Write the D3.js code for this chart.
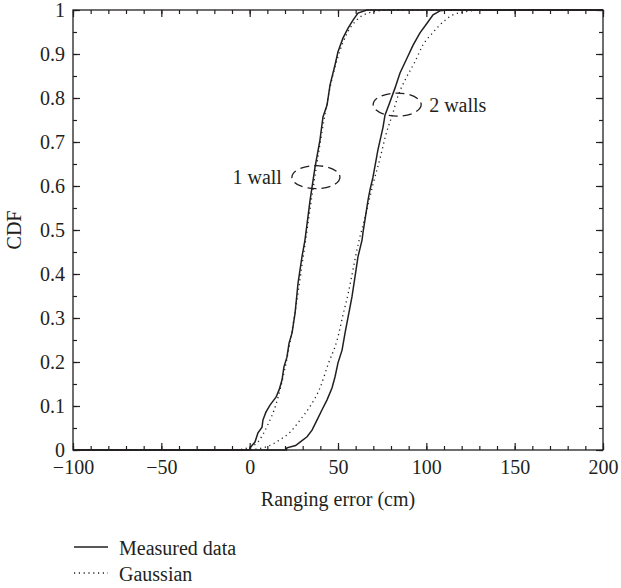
<!DOCTYPE html>
<html>
<head>
<meta charset="utf-8">
<script src="https://cdn.jsdelivr.net/npm/d3@7"></script>
<style>
  html, body { margin: 0; padding: 0; background: #fff; }
  svg { display: block; }
  text { font-family: "Liberation Serif", "DejaVu Serif", serif; fill: #231f20; }
</style>
</head>
<body>
<svg id="chart" width="621" height="588"></svg>
<script>
// Empirical CDF of ranging error, one wall (x in cm, cumulative fraction)
const oneWallX = [-100, 0.0, 0.2, 3.0, 4.7, 7.0, 7.5, 9.2, 11.5, 13.2, 14.9, 16.6, 18.3, 19.4, 21.1, 22.3, 24.0, 25.7, 27.4, 29.6, 31.3, 34.2, 37.0, 39.8, 41.5, 43.8, 45.5, 48.3, 50.0, 52.8, 55.7, 58.5, 61.3, 66.4, 200];
const oneWallY = [0, 0, 0.005, 0.018, 0.039, 0.052, 0.068, 0.086, 0.102, 0.111, 0.120, 0.136, 0.159, 0.189, 0.211, 0.243, 0.266, 0.311, 0.380, 0.439, 0.477, 0.568, 0.643, 0.705, 0.757, 0.784, 0.830, 0.875, 0.905, 0.936, 0.959, 0.977, 0.993, 1.0, 1.0];

// Empirical CDF of ranging error, two walls
const twoWallX = [-100, 20.8, 21.1, 26.0, 28.5, 32.5, 35.3, 38.1, 40.9, 43.8, 46.6, 48.3, 50.0, 52.3, 54.0, 55.7, 57.9, 59.6, 61.3, 63.6, 64.1, 67.0, 68.1, 69.8, 72.6, 75.5, 76.6, 79.4, 82.3, 85.1, 89.1, 92.5, 96.4, 100.4, 103.8, 107.7, 111.7, 200];
const twoWallY = [0, 0, 0.005, 0.010, 0.018, 0.030, 0.045, 0.068, 0.091, 0.114, 0.141, 0.166, 0.198, 0.227, 0.266, 0.302, 0.348, 0.393, 0.439, 0.477, 0.493, 0.568, 0.591, 0.620, 0.682, 0.734, 0.761, 0.791, 0.823, 0.857, 0.891, 0.920, 0.948, 0.970, 0.989, 0.998, 1.0, 1.0];

// Gaussian fits (sampled)
const gaussOneX = [-100, -10, 0, 5, 10, 15, 20, 25, 30, 35, 40, 45, 50, 55, 60, 65, 70, 80, 200];
const gaussOneY = [0, 0.0, 0.006, 0.02, 0.055, 0.105, 0.186, 0.296, 0.43, 0.57, 0.70, 0.814, 0.894, 0.946, 0.975, 0.99, 0.996, 1.0, 1.0];
const gaussTwoX = [-100, 0, 10, 17, 23, 28.5, 34, 40, 44.5, 49.5, 53, 56, 58, 61, 66, 70, 74, 77, 81, 84, 88.5, 93.5, 98, 104, 109.5, 115, 122, 130, 200];
const gaussTwoY = [0, 0.001, 0.008, 0.023, 0.041, 0.068, 0.098, 0.143, 0.196, 0.25, 0.31, 0.36, 0.40, 0.46, 0.54, 0.607, 0.666, 0.715, 0.765, 0.805, 0.845, 0.882, 0.92, 0.95, 0.973, 0.989, 0.996, 1.0, 1.0];

// Axis ticks
const xMajor = [-100, -50, 0, 50, 100, 150, 200];
const xMinor = d3.range(-100, 201, 10);
const yMajor = [0, 0.1, 0.2, 0.3, 0.4, 0.5, 0.6, 0.7, 0.8, 0.9, 1];
const yMinor = d3.range(0, 1.0001, 0.05);
const xTickLabels = ["\u2212100", "\u221250", "0", "50", "100", "150", "200"];
const yTickLabels = ["0", "0.1", "0.2", "0.3", "0.4", "0.5", "0.6", "0.7", "0.8", "0.9", "1"];

// Annotations: label, ellipse centre (data units)
const annotations = [
  { label: "1 wall", cx: 37.5, cy: 0.62, textSide: "left" },
  { label: "2 walls", cx: 83.5, cy: 0.785, textSide: "right" }
];

const legendItems = [
  { label: "Measured data", dash: null },
  { label: "Gaussian", dash: "1.2,3.6" }
];

const ink = "#231f20";
const m = { left: 73, top: 10, right: 603, bottom: 450 };
const W = m.right - m.left, H = m.bottom - m.top;

const svg = d3.select("#chart");
const x = d3.scaleLinear().domain([-100, 200]).range([m.left, m.right]);
const y = d3.scaleLinear().domain([0, 1]).range([m.bottom, m.top]);

svg.append("defs").append("clipPath").attr("id", "plotClip")
  .append("rect").attr("x", m.left).attr("y", m.top - 1).attr("width", W).attr("height", H + 2);

const zip = (xs, ys) => xs.map((v, i) => [v, ys[i]]);

const plot = svg.append("g").attr("clip-path", "url(#plotClip)");

const measuredLine = d3.line().x(d => x(d[0])).y(d => y(d[1])).curve(d3.curveLinear);
const smoothLine = d3.line().x(d => x(d[0])).y(d => y(d[1])).curve(d3.curveMonotoneX);

[[gaussOneX, gaussOneY], [gaussTwoX, gaussTwoY]].forEach(([xs, ys]) => {
  plot.append("path").datum(zip(xs, ys)).attr("d", smoothLine)
    .attr("fill", "none").attr("stroke", ink).attr("stroke-width", 1.3)
    .attr("stroke-dasharray", "1.2,3.6");
});
[[oneWallX, oneWallY], [twoWallX, twoWallY]].forEach(([xs, ys]) => {
  plot.append("path").datum(zip(xs, ys)).attr("d", measuredLine)
    .attr("fill", "none").attr("stroke", ink).attr("stroke-width", 1.5)
    .attr("stroke-linejoin", "miter");
});

// Axes with inward ticks on all four sides
function styleAxis(g) {
  g.select(".domain").remove();
  g.selectAll(".tick line").attr("stroke", ink).attr("stroke-width", 1.2);
}
svg.append("g").attr("transform", `translate(0,${m.bottom})`)
  .call(d3.axisBottom(x).tickValues(xMinor).tickSize(-4).tickFormat(""))
  .call(styleAxis);
svg.append("g").attr("transform", `translate(0,${m.top})`)
  .call(d3.axisTop(x).tickValues(xMinor).tickSize(-4).tickFormat(""))
  .call(styleAxis);
svg.append("g").attr("transform", `translate(${m.left},0)`)
  .call(d3.axisLeft(y).tickValues(yMinor).tickSize(-4).tickFormat(""))
  .call(styleAxis);
svg.append("g").attr("transform", `translate(${m.right},0)`)
  .call(d3.axisRight(y).tickValues(yMinor).tickSize(-4).tickFormat(""))
  .call(styleAxis);

const xAxis = svg.append("g").attr("transform", `translate(0,${m.bottom})`)
  .call(d3.axisBottom(x).tickValues(xMajor).tickSize(-7)
    .tickFormat((d, i) => xTickLabels[i]))
  .call(styleAxis);
xAxis.selectAll("text").attr("font-size", 20).attr("fill", ink)
  .attr("font-family", "Liberation Serif, serif").attr("dy", "0.71em").attr("y", 10);

svg.append("g").attr("transform", `translate(0,${m.top})`)
  .call(d3.axisTop(x).tickValues(xMajor).tickSize(-7).tickFormat(""))
  .call(styleAxis);

const yAxis = svg.append("g").attr("transform", `translate(${m.left},0)`)
  .call(d3.axisLeft(y).tickValues(yMajor).tickSize(-7)
    .tickFormat((d, i) => yTickLabels[i]))
  .call(styleAxis);
yAxis.selectAll("text").attr("font-size", 20).attr("fill", ink)
  .attr("font-family", "Liberation Serif, serif").attr("x", -8).attr("dy", "0.3em");

svg.append("g").attr("transform", `translate(${m.right},0)`)
  .call(d3.axisRight(y).tickValues(yMajor).tickSize(-7).tickFormat(""))
  .call(styleAxis);

// Frame
svg.append("rect").attr("x", m.left).attr("y", m.top).attr("width", W).attr("height", H)
  .attr("fill", "none").attr("stroke", ink).attr("stroke-width", 1.3);

// Axis titles
svg.append("text").attr("x", (m.left + m.right) / 2).attr("y", 506)
  .attr("text-anchor", "middle").attr("font-size", 20).text("Ranging error (cm)");
svg.append("text").attr("transform", `translate(21,${(m.top + m.bottom) / 2}) rotate(-90)`)
  .attr("text-anchor", "middle").attr("font-size", 20).text("CDF");

// Annotation ellipses and labels
annotations.forEach(a => {
  const cx = x(a.cx), cy = y(a.cy);
  svg.append("ellipse").attr("cx", cx).attr("cy", cy).attr("rx", 24).attr("ry", 11.5)
    .attr("fill", "none").attr("stroke", ink).attr("stroke-width", 1.3)
    .attr("stroke-dasharray", "9,5");
  const t = svg.append("text").attr("font-size", 20).attr("y", cy + 7).text(a.label);
  if (a.textSide === "left") t.attr("x", cx - 34).attr("text-anchor", "end");
  else t.attr("x", cx + 32).attr("text-anchor", "start");
});

// Legend
const legend = svg.append("g").attr("transform", "translate(74,547)");
legendItems.forEach((it, i) => {
  const g = legend.append("g").attr("transform", `translate(0,${i * 26})`);
  g.append("line").attr("x1", 0).attr("x2", 34).attr("y1", 0).attr("y2", 0)
    .attr("stroke", ink).attr("stroke-width", it.dash ? 1.3 : 1.5)
    .attr("stroke-dasharray", it.dash);
  g.append("text").attr("x", 45).attr("y", 8).attr("font-size", 20).text(it.label);
});
</script>
</body>
</html>
